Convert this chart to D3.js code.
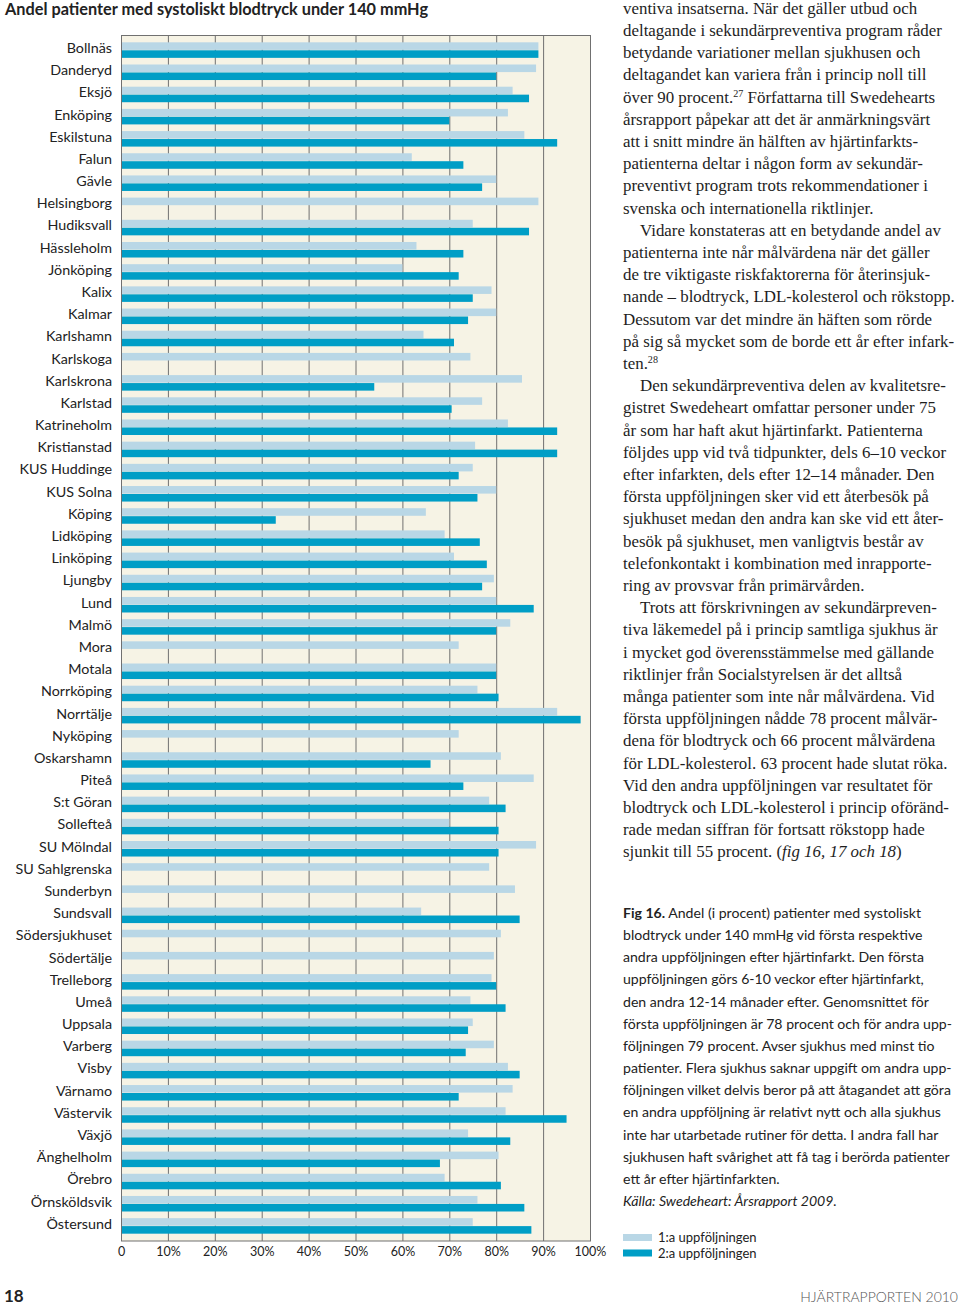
<!DOCTYPE html>
<html><head><meta charset="utf-8">
<script src="https://cdn.jsdelivr.net/npm/d3@7"></script>
<style>
html,body{margin:0;padding:0;background:#fff;}
svg{display:block;}
</style></head>
<body>
<svg id="page" width="960" height="1308"></svg>
<script>
const categories = ["Bollnäs","Danderyd","Eksjö","Enköping","Eskilstuna","Falun","Gävle","Helsingborg","Hudiksvall","Hässleholm","Jönköping","Kalix","Kalmar","Karlshamn","Karlskoga","Karlskrona","Karlstad","Katrineholm","Kristianstad","KUS Huddinge","KUS Solna","Köping","Lidköping","Linköping","Ljungby","Lund","Malmö","Mora","Motala","Norrköping","Norrtälje","Nyköping","Oskarshamn","Piteå","S:t Göran","Sollefteå","SU Mölndal","SU Sahlgrenska","Sunderbyn","Sundsvall","Södersjukhuset","Södertälje","Trelleborg","Umeå","Uppsala","Varberg","Visby","Värnamo","Västervik","Växjö","Änghelholm","Örebro","Örnsköldsvik","Östersund"];
const firstFollowUp = [89,88.5,83.5,82.5,86,62,80,89,75,63,60,79,80,64.5,74.5,85.5,77,82.5,75.5,75,80,65,69,71,79.5,80,83,72,80,76,93,72,81,88,78.5,70,88.5,78.5,84,64,81,79.5,79,74.5,75,79.5,82.5,83.5,82,74,80.5,69,76,75];
const secondFollowUp = [89,80,87,70,93,73,77,null,87,73,72,75,74,71,null,54,70.5,93,93,72,76,33,76.5,78,77,88,80,null,80,80.5,98,null,66,73,82,80.5,80.5,null,null,85,null,null,80,82,74,73.5,85,72,95,83,68,81,86,87.5];
const tickValues = [0,10,20,30,40,50,60,70,80,90,100];
const tickLabels = ["0","10%","20%","30%","40%","50%","60%","70%","80%","90%","100%"];
const seriesNames = ["1:a uppföljningen","2:a uppföljningen"];
const titleText = "Andel patienter med systoliskt blodtryck under 140 mmHg";

const bodyLines = [
 [0,"ventiva insatserna. När det gäller utbud och"],
 [0,"deltagande i sekundärpreventiva program råder"],
 [0,"betydande variationer mellan sjukhusen och"],
 [0,"deltagandet kan variera från i princip noll till"],
 [0,"över 90 procent.^27^ Författarna till Swedehearts"],
 [0,"årsrapport påpekar att det är anmärkningsvärt"],
 [0,"att i snitt mindre än hälften av hjärtinfarkts-"],
 [0,"patienterna deltar i någon form av sekundär-"],
 [0,"preventivt program trots rekommendationer i"],
 [0,"svenska och internationella riktlinjer."],
 [1,"Vidare konstateras att en betydande andel av"],
 [0,"patienterna inte når målvärdena när det gäller"],
 [0,"de tre viktigaste riskfaktorerna för återinsjuk-"],
 [0,"nande – blodtryck, LDL-kolesterol och rökstopp."],
 [0,"Dessutom var det mindre än häften som rörde"],
 [0,"på sig så mycket som de borde ett år efter infark-"],
 [0,"ten.^28^"],
 [1,"Den sekundärpreventiva delen av kvalitetsre-"],
 [0,"gistret Swedeheart omfattar personer under 75"],
 [0,"år som har haft akut hjärtinfarkt. Patienterna"],
 [0,"följdes upp vid två tidpunkter, dels 6–10 veckor"],
 [0,"efter infarkten, dels efter 12–14 månader. Den"],
 [0,"första uppföljningen sker vid ett återbesök på"],
 [0,"sjukhuset medan den andra kan ske vid ett åter-"],
 [0,"besök på sjukhuset, men vanligtvis består av"],
 [0,"telefonkontakt i kombination med inrapporte-"],
 [0,"ring av provsvar från primärvården."],
 [1,"Trots att förskrivningen av sekundärpreven-"],
 [0,"tiva läkemedel på i princip samtliga sjukhus är"],
 [0,"i mycket god överensstämmelse med gällande"],
 [0,"riktlinjer från Socialstyrelsen är det alltså"],
 [0,"många patienter som inte når målvärdena. Vid"],
 [0,"första uppföljningen nådde 78 procent målvär-"],
 [0,"dena för blodtryck och 66 procent målvärdena"],
 [0,"för LDL-kolesterol. 63 procent hade slutat röka."],
 [0,"Vid den andra uppföljningen var resultatet för"],
 [0,"blodtryck och LDL-kolesterol i princip oföränd-"],
 [0,"rade medan siffran för fortsatt rökstopp hade"],
 [0,"sjunkit till 55 procent. (*fig 16, 17 och 18*)"]
];
const captionLines = [
 "#Fig 16.# Andel (i procent) patienter med systoliskt",
 "blodtryck under 140 mmHg vid första respektive",
 "andra uppföljningen efter hjärtinfarkt. Den första",
 "uppföljningen görs 6-10 veckor efter hjärtinfarkt,",
 "den andra 12-14 månader efter. Genomsnittet för",
 "första uppföljningen är 78 procent och för andra upp-",
 "följningen 79 procent. Avser sjukhus med minst tio",
 "patienter. Flera sjukhus saknar uppgift om andra upp-",
 "följningen vilket delvis beror på att åtagandet att göra",
 "en andra uppföljning är relativt nytt och alla sjukhus",
 "inte har utarbetade rutiner för detta. I andra fall har",
 "sjukhusen haft svårighet att få tag i berörda patienter",
 "ett år efter hjärtinfarkten.",
 "*Källa: Swedeheart: Årsrapport 2009.*"
];

const svg = d3.select("#page");
const SANS = "Lato, 'Open Sans', sans-serif";
const SERIF = "'Liberation Serif', 'DejaVu Serif', serif";
const lightCol = "#b9d7e6", darkCol = "#009ec6", bgCol = "#f6f3e5", gridCol = "#707070";

// Title
svg.append("text").attr("x",5).attr("y",15).attr("font-family",SANS).attr("font-weight",700)
  .attr("font-size",16.3).attr("fill","#222").text(titleText);

// Chart
const plot = {left:121, right:590, top:35, bottom:1241};
const x = d3.scaleLinear().domain([0,100]).range([plot.left, plot.right]);
const y = d3.scaleBand().domain(categories).range([plot.top, plot.bottom]).paddingInner(0.3).paddingOuter(0.33);
const sub = d3.scaleBand().domain(["first","second"]).range([0, y.bandwidth()]).paddingInner(0.05);

const g = svg.append("g");
g.append("rect").attr("x",plot.left).attr("y",plot.top).attr("width",plot.right-plot.left)
  .attr("height",plot.bottom-plot.top).attr("fill",bgCol);
g.append("g").selectAll("line").data(tickValues).join("line")
  .attr("x1",d=>x(d)+0.5).attr("x2",d=>x(d)+0.5).attr("y1",plot.top).attr("y2",plot.bottom)
  .attr("stroke",gridCol).attr("stroke-width",1);

const rows = categories.map((c,i)=>({c, a:firstFollowUp[i], b:secondFollowUp[i]}));
g.append("g").selectAll("rect").data(rows).join("rect")
  .attr("x",x(0)).attr("y",d=>y(d.c)+sub("first")).attr("height",sub.bandwidth())
  .attr("width",d=>x(d.a)-x(0)).attr("fill",lightCol);
g.append("g").selectAll("rect").data(rows.filter(d=>d.b!=null)).join("rect")
  .attr("x",x(0)).attr("y",d=>y(d.c)+sub("second")).attr("height",sub.bandwidth())
  .attr("width",d=>x(d.b)-x(0)).attr("fill",darkCol);

// frame
g.append("rect").attr("x",plot.left+0.5).attr("y",plot.top+0.5).attr("width",plot.right-plot.left)
  .attr("height",plot.bottom-plot.top-0.5).attr("fill","none").attr("stroke",gridCol);

// axes
const xAxis = d3.axisBottom(x).tickValues(tickValues).tickFormat((d,i)=>tickLabels[i]).tickSize(0).tickPadding(6);
const xa = svg.append("g").attr("transform",`translate(0,${plot.bottom})`).call(xAxis);
xa.select(".domain").remove();
xa.selectAll("text").attr("font-family",SANS).attr("font-size",12.5).attr("fill","#222");

const yAxis = d3.axisLeft(y).tickSize(0).tickPadding(9);
const ya = svg.append("g").attr("transform",`translate(${plot.left},0)`).call(yAxis);
ya.select(".domain").remove();
ya.selectAll("text").attr("font-family",SANS).attr("font-size",14.3).attr("fill","#222").attr("dy","0.2em");

// Rich text helper
function richLine(sel, str, opts){
  const t = sel.append("text").attr("x",opts.x).attr("y",opts.y)
    .attr("font-family",opts.font).attr("font-size",opts.size).attr("fill",opts.fill||"#222");
  const parts = str.split(/(\^[^^]+\^|\*[^*]+\*|#[^#]+#)/).filter(s=>s.length);
  let sup=false;
  parts.forEach(p=>{
    if(p[0]==="^"){
      t.append("tspan").attr("dy",-6).attr("font-size",opts.size*0.6).text(p.slice(1,-1));
      sup=true;
    } else {
      const ts = t.append("tspan");
      if(sup){ ts.attr("dy",6); sup=false; }
      if(p[0]==="*") ts.attr("font-style","italic").text(p.slice(1,-1));
      else if(p[0]==="#") ts.attr("font-weight",700).text(p.slice(1,-1));
      else ts.text(p);
    }
  });
}

// Body text
const body = svg.append("g");
bodyLines.forEach((l,i)=>{
  richLine(body, l[1], {x:623 + (l[0]?17:0), y:13.8 + i*22.2, font:SERIF, size:16.9, fill:"#1e1e1e"});
});

// Caption
const cap = svg.append("g");
captionLines.forEach((l,i)=>{
  richLine(cap, l, {x:623, y:918 + i*22.15, font:SANS, size:14.1, fill:"#222"});
});

// Legend
const leg = svg.append("g").attr("transform","translate(623,1234)");
[lightCol,darkCol].forEach((c,i)=>{
  leg.append("rect").attr("x",0).attr("y",i*15.5).attr("width",29).attr("height",7).attr("fill",c);
  leg.append("text").attr("x",35).attr("y",i*15.5+8).attr("font-family",SANS).attr("font-size",13)
    .attr("fill","#222").text(seriesNames[i]);
});

// Footer
svg.append("text").attr("x",4).attr("y",1302).attr("font-family",SANS).attr("font-weight",700)
  .attr("font-size",17).attr("fill","#222").text("18");
svg.append("text").attr("x",958).attr("y",1302).attr("text-anchor","end").attr("font-family",SANS)
  .attr("font-weight",300).attr("font-size",14).attr("fill","#555").text("HJÄRTRAPPORTEN 2010");
</script>
</body></html>
